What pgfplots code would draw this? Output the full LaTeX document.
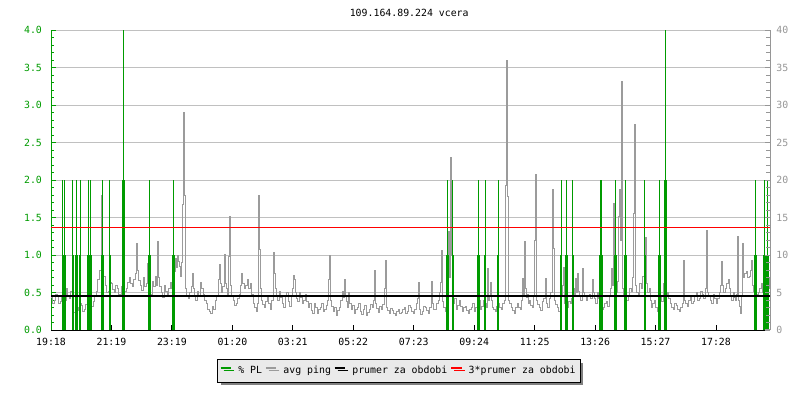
\documentclass[border=0pt]{standalone}
\usepackage{pgfplots}
\pgfplotsset{compat=1.18}
\usepackage{pgfplotstable}
\usepackage{fontspec}
\setmainfont{DejaVu Sans Mono}
\usetikzlibrary{shadows}
\definecolor{pgreen}{RGB}{0,155,0}
\definecolor{pgrey}{RGB}{155,155,155}
\definecolor{rgrey}{RGB}{150,150,150}
\definecolor{gridc}{RGB}{192,192,192}
\definecolor{legbg}{RGB}{234,234,234}
\newcommand\tickfont{\fontsize{7.4pt}{8.5pt}\selectfont}

\pgfplotstableread{
t v
0 0.44
3 0.36
6 0.40
9 0.48
12 0.46
15 0.35
18 0.38
21 0.45
24 0.50
27 0.40
30 0.55
33 0.46
36 0.42
39 0.52
42 0.30
45 0.24
48 0.35
51 0.30
54 0.26
57 0.36
60 0.33
63 0.25
66 0.28
69 0.34
72 0.36
75 0.26
78 0.27
81 0.31
84 0.38
87 0.45
90 0.52
93 0.68
96 0.80
100 1.79
102 0.85
105 0.72
108 0.60
111 0.50
114 0.52
117 0.64
120 0.62
123 0.54
126 0.50
129 0.60
132 0.56
135 0.47
138 0.48
141 0.58
144 0.62
147 0.52
150 0.55
153 0.63
156 0.70
159 0.62
162 0.58
165 0.68
168 0.75
170 1.16
172 0.80
175 0.66
178 0.60
181 0.53
184 0.70
187 0.58
190 0.62
192 0.89
196 0.55
199 0.48
202 0.65
205 0.58
208 0.72
210 0.60
212 1.18
214 0.70
217 0.58
220 0.50
223 0.44
226 0.60
229 0.52
232 0.45
235 0.55
238 0.64
241 0.55
244 0.62
246 0.78
248 0.95
250 0.84
252 1.00
254 0.92
256 0.85
258 0.72
260 0.90
262 1.68
264 2.90
266 1.79
268 0.55
271 0.46
274 0.42
277 0.50
280 0.58
282 0.75
284 0.55
286 0.45
289 0.40
292 0.52
295 0.46
298 0.64
301 0.55
304 0.48
307 0.40
310 0.35
313 0.28
316 0.25
319 0.22
322 0.32
325 0.28
328 0.40
331 0.46
334 0.67
336 0.88
338 0.62
340 0.50
343 0.58
346 1.01
348 0.62
350 0.55
352 0.48
354 0.98
356 1.52
358 0.60
361 0.46
364 0.40
367 0.33
370 0.35
373 0.42
376 0.48
378 0.60
380 0.75
383 0.62
386 0.55
389 0.60
392 0.68
395 0.56
398 0.62
401 0.48
404 0.35
407 0.30
410 0.25
412 0.36
414 1.79
416 1.07
418 0.55
420 0.40
423 0.34
426 0.30
429 0.38
432 0.45
435 0.36
438 0.28
441 0.40
444 1.04
446 0.76
448 0.55
450 0.45
453 0.40
456 0.52
459 0.44
462 0.35
465 0.30
468 0.45
471 0.50
474 0.38
477 0.32
480 0.45
482 0.55
484 0.73
486 0.67
488 0.50
490 0.42
493 0.38
496 0.50
499 0.44
502 0.35
505 0.40
508 0.48
511 0.38
514 0.30
517 0.36
520 0.26
523 0.22
526 0.36
529 0.30
532 0.22
535 0.27
538 0.30
541 0.35
544 0.25
547 0.28
550 0.33
552 0.40
554 0.68
556 1.00
558 0.40
561 0.32
564 0.25
567 0.30
570 0.20
573 0.26
576 0.30
579 0.40
582 0.51
584 0.44
586 0.68
588 0.45
590 0.38
592 0.30
594 0.50
597 0.36
600 0.28
603 0.33
606 0.22
609 0.27
612 0.30
615 0.36
618 0.25
621 0.21
624 0.28
627 0.33
630 0.20
633 0.24
636 0.27
639 0.34
642 0.30
644 0.40
646 0.79
648 0.35
651 0.29
654 0.24
657 0.32
660 0.28
663 0.34
666 0.55
668 0.93
670 0.30
673 0.26
676 0.22
679 0.29
682 0.26
685 0.22
688 0.20
691 0.25
694 0.28
697 0.22
700 0.23
703 0.28
706 0.30
709 0.22
712 0.25
715 0.33
718 0.30
721 0.25
724 0.22
727 0.28
730 0.35
732 0.42
734 0.63
736 0.28
739 0.21
742 0.25
745 0.32
748 0.30
751 0.26
754 0.22
757 0.30
760 0.65
762 0.35
765 0.27
768 0.28
771 0.35
774 0.40
776 0.50
778 0.64
780 1.06
782 0.38
785 0.30
788 0.25
791 0.40
794 1.31
796 0.70
798 2.30
800 1.00
802 0.50
804 0.35
807 0.42
810 0.28
813 0.33
816 0.40
819 0.32
822 0.25
825 0.30
828 0.32
831 0.26
834 0.22
837 0.28
840 0.30
843 0.36
846 0.25
849 0.30
852 0.35
855 0.40
858 0.28
861 0.32
864 0.40
867 0.36
870 0.30
872 0.82
874 0.40
876 0.45
878 0.64
880 0.40
882 0.30
885 0.27
888 0.25
891 0.32
894 0.35
897 0.30
900 0.28
903 0.35
906 0.40
908 1.93
910 3.60
912 1.78
914 0.40
917 0.35
920 0.30
923 0.26
926 0.22
929 0.30
932 0.35
935 0.30
938 0.28
940 0.40
942 0.69
944 0.45
946 1.18
948 0.55
950 0.44
952 0.47
954 0.36
956 0.40
959 0.33
962 0.30
964 0.45
966 1.19
968 2.07
970 0.40
973 0.34
976 0.30
979 0.26
982 0.38
985 0.42
988 0.69
990 0.35
993 0.30
996 0.42
999 0.50
1002 1.88
1004 1.09
1006 0.40
1009 0.34
1012 0.30
1015 0.25
1018 0.38
1020 0.45
1022 0.60
1024 0.84
1026 0.35
1029 0.28
1032 0.30
1035 0.38
1038 0.35
1041 0.42
1044 0.55
1046 0.45
1048 0.69
1050 0.50
1052 0.76
1054 0.52
1056 0.45
1059 0.40
1062 0.82
1064 0.50
1067 0.45
1070 0.40
1073 0.46
1076 0.48
1079 0.42
1082 0.67
1084 0.50
1086 0.42
1089 0.36
1092 0.50
1095 0.42
1098 0.35
1101 0.28
1104 0.30
1107 0.36
1110 0.38
1113 0.32
1116 0.45
1118 0.55
1120 0.82
1122 0.60
1124 1.69
1126 0.60
1128 0.45
1130 0.50
1132 0.65
1134 1.51
1136 1.87
1138 1.20
1140 3.31
1142 0.55
1145 0.45
1148 0.50
1151 0.40
1154 0.45
1157 0.55
1160 0.52
1162 0.70
1164 1.55
1166 2.74
1168 0.60
1171 0.50
1174 0.45
1177 0.62
1180 0.55
1183 0.72
1186 0.65
1188 1.24
1190 0.62
1193 0.50
1196 0.55
1198 0.40
1200 0.30
1203 0.36
1206 0.40
1209 0.30
1212 0.25
1215 0.34
1218 0.45
1221 0.38
1224 0.62
1226 0.40
1229 0.45
1232 0.50
1235 0.42
1238 0.35
1241 0.30
1244 0.27
1247 0.36
1250 0.33
1253 0.28
1256 0.25
1259 0.30
1262 0.35
1264 0.93
1266 0.40
1269 0.35
1272 0.32
1275 0.40
1278 0.45
1281 0.36
1284 0.38
1287 0.45
1290 0.50
1293 0.40
1296 0.42
1299 0.52
1302 0.48
1305 0.42
1308 0.55
1310 1.33
1312 0.50
1315 0.45
1318 0.40
1321 0.36
1324 0.48
1327 0.42
1330 0.35
1333 0.42
1336 0.50
1338 0.60
1340 0.91
1342 0.60
1345 0.50
1348 0.55
1351 0.62
1354 0.67
1356 0.55
1358 0.45
1361 0.40
1364 0.50
1366 0.44
1368 0.40
1370 0.48
1372 1.25
1374 0.40
1376 0.32
1378 0.22
1380 0.45
1382 1.16
1384 0.70
1387 0.75
1390 0.78
1393 0.70
1396 0.72
1398 0.80
1400 0.93
1402 0.60
1405 0.52
1408 0.55
1411 0.48
1414 0.50
1417 0.56
1420 0.62
1423 0.50
1426 0.55
1429 0.60
1432 0.62
1434 0.55
1436 0.69
}\pingtable

\pgfplotstableread{
t pl
22 2
24 1
26 2
28 1
43 2
45 1
49 1
51 2
53 1
56 1
58 2
73 1
75 2
77 1
79 2
81 1
101 1
103 2
105 1
117 2
119 1
143 2
145 4
147 2
194 1
196 2
198 1
243 1
245 2
247 1
791 1
793 2
795 1
803 2
805 1
853 1
855 2
857 1
867 1
869 2
893 1
895 2
1019 1
1021 2
1028 1
1030 2
1032 1
1043 2
1045 1
1096 1
1098 2
1100 2
1102 1
1127 1
1129 2
1131 1
1146 1
1148 2
1150 1
1187 2
1189 1
1215 1
1217 2
1219 1
1227 2
1229 4
1231 2
1407 1
1409 2
1411 1
1425 1
1427 2
1429 1
1431 1
1433 2
1435 1
}\pltable

\begin{document}
\begin{tikzpicture}
\path[use as bounding box] (0,0) rectangle (600pt,300pt);
\node[font=\tickfont, anchor=base] at (306.9pt,287.6pt) {109.164.89.224 vcera};

\begin{axis}[
  at={(38.25pt,52.5pt)}, anchor=south west,
  scale only axis, width=539.25pt, height=224.8pt,
  xmin=0, xmax=1438, ymin=0, ymax=4,
  axis x line*=bottom, axis y line*=left,
  x axis line style={-, black, line width=0.75pt},
  y axis line style={-, pgreen, line width=0.75pt},
  xtick={0,120.9,241.8,362.7,483.6,604.5,725.5,846.4,967.3,1088.2,1209.1,1330},
  xticklabels={19:18,21:19,23:19,01:20,03:21,05:22,07:23,09:24,11:25,13:26,15:27,17:28},
  ytick={0,0.5,1,1.5,2,2.5,3,3.5,4},
  yticklabels={0.0,0.5,1.0,1.5,2.0,2.5,3.0,3.5,4.0},
  minor y tick num=4,
  tick align=inside,
  major tick length=3.75pt, minor tick length=2.5pt,
  ymajorgrids, major grid style={gridc, line width=0.75pt},
  x tick style={black, line width=0.75pt},
  y tick style={pgreen, line width=0.75pt},
  yticklabel style={pgreen, font=\tickfont, xshift=-3.3pt},
  xticklabel style={black, font=\tickfont, yshift=-2.5pt},
  legend columns=4,
  legend image code/.code={\draw[#1, line width=1.5pt] (0pt,2.4pt) -- (8pt,2.4pt);},
  legend style={at={(rel axis cs:0.484,-0.137)}, anchor=center,
    draw=black, line width=0.75pt, fill=legbg, font=\tickfont,
    inner xsep=1.5pt, inner ysep=3pt,
    general shadow={fill=gray, shadow xshift=2.25pt, shadow yshift=-2.25pt},
    /tikz/every even column/.append style={column sep=0pt}},
]
\addplot[pgrey, line width=0.75pt, no marks, const plot, forget plot] table[x=t, y=v] {\pingtable};
\addplot[ycomb, pgreen, line width=0.75pt, no marks, forget plot] table[x=t, y=pl] {\pltable};
\addplot[black, line width=1.75pt, no marks, forget plot] coordinates {(0,0.458) (1438,0.458)};
\addplot[red, line width=0.75pt, no marks, forget plot] coordinates {(0,1.374) (1438,1.374)};
\addlegendimage{pgreen}
\addlegendentry{\hspace{2.5pt}\% PL}
\addlegendimage{pgrey}
\addlegendentry{\hspace{2.5pt}avg ping}
\addlegendimage{black}
\addlegendentry{\hspace{2.5pt}prumer za obdobi}
\addlegendimage{red}
\addlegendentry{\hspace{2.5pt}3*prumer za obdobi}
\end{axis}

\begin{axis}[
  at={(38.25pt,52.5pt)}, anchor=south west,
  scale only axis, width=539.25pt, height=224.8pt,
  xmin=0, xmax=1438, ymin=0, ymax=40,
  axis x line=none, axis y line*=right,
  y axis line style={-, rgrey, line width=0.75pt},
  ytick={0,5,10,15,20,25,30,35,40},
  minor y tick num=4,
  tick align=inside,
  major tick length=3.75pt, minor tick length=3pt,
  y tick style={rgrey, line width=0.75pt},
  yticklabel style={rgrey, font=\tickfont, xshift=1.3pt},
  /pgf/number format/assume math mode=true,
]
\addplot[draw=none, forget plot] coordinates {(0,0) (1438,40)};
\end{axis}
\end{tikzpicture}
\end{document}
